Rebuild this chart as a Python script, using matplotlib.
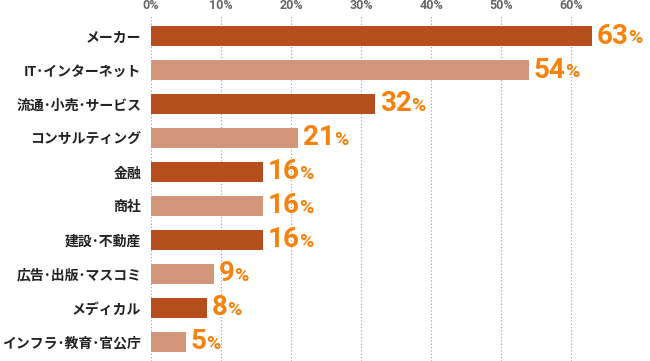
import matplotlib
matplotlib.use("Agg")
import matplotlib.pyplot as plt

plt.rcParams['font.family'] = ['Noto Sans CJK JP', 'DejaVu Sans']

categories = ["メーカー", "IT･インターネット", "流通･小売･サービス", "コンサルティング", "金融",
              "商社", "建設･不動産", "広告･出版･マスコミ", "メディカル", "インフラ･教育･官公庁"]
values = [63, 54, 32, 21, 16, 16, 16, 9, 8, 5]
ticks = [0, 10, 20, 30, 40, 50, 60]
tick_labels = ["0%", "10%", "20%", "30%", "40%", "50%", "60%"]

dark = "#B5501E"
light = "#D3967A"
orange = "#F5820C"

fig = plt.figure(figsize=(6.5, 3.61), dpi=100)
ax = fig.add_axes([151/650, 0, 499/650, 346/361])
ax.set_xlim(0, 499/7)
ax.set_ylim(9.56, -0.618)

colors = [dark if i % 2 == 0 else light for i in range(len(values))]
ax.barh(range(len(values)), values, height=0.59, color=colors, zorder=2)

for t in ticks:
    ax.axvline(t, color="#999999", lw=0.8, ls=(0, (1, 2)), zorder=1)

ax.set_xticks(ticks)
ax.set_xticklabels(tick_labels, fontsize=9, fontweight="bold", color="#666666", family=["Roboto", "DejaVu Sans"])
ax.xaxis.tick_top()
ax.tick_params(axis="x", length=0, pad=2)
ax.set_yticks(range(len(values)))
ax.set_yticklabels(categories, fontsize=10, fontweight="bold", color="#222222")
ax.tick_params(axis="y", length=0, pad=7)
for s in ax.spines.values():
    s.set_visible(False)

for i, v in enumerate(values):
    num = ax.annotate(str(v), xy=(v, i), xytext=(3.5, 0), textcoords="offset points",
                      ha="left", va="center", fontsize=20, fontweight="bold", color=orange,
                      family=["Roboto", "DejaVu Sans"])
    ax.annotate("%", xy=(1, 0.1), xycoords=num, xytext=(-0.5, 0), textcoords="offset points",
                ha="left", va="bottom", fontsize=14, fontweight="bold", color=orange,
                family=["Roboto", "DejaVu Sans"])

fig.savefig("out.png", dpi=100)
